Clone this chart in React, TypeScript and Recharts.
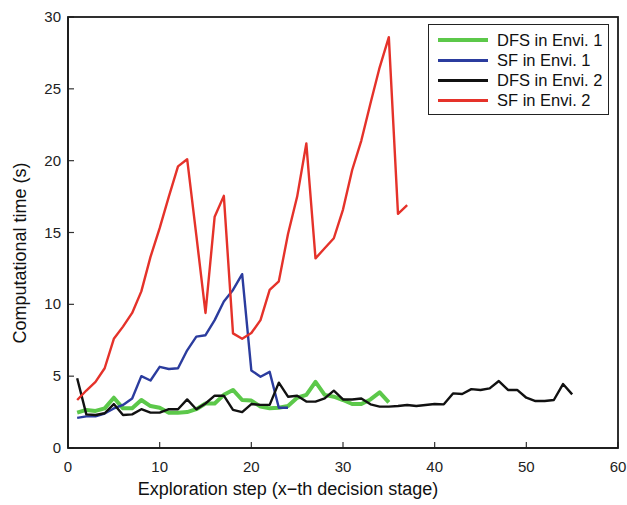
import React from 'react';
import { LineChart, Line, XAxis, YAxis } from 'recharts';

// exploration steps 1..55
const steps = Array.from({ length: 55 }, (_, i) => i + 1);

const dfsEnv1 = [2.46, 2.65, 2.58, 2.76, 3.5, 2.76, 2.76, 3.34, 2.92, 2.8, 2.46, 2.46, 2.5, 2.7, 3.1, 3.1, 3.7, 4.04, 3.34, 3.3,
  2.88, 2.76, 2.8, 2.92, 3.5, 3.7, 4.6, 3.7, 3.57, 3.34, 3.06, 3.06, 3.38, 3.87, 3.18];
const sfEnv1 = [2.1, 2.2, 2.2, 2.4, 2.75, 3.0, 3.45, 5.0, 4.7, 5.65, 5.5, 5.55, 6.8, 7.75, 7.85, 8.9, 10.2, 11.0, 12.1, 5.4,
  4.96, 5.3, 2.8, 2.8];
const dfsEnv2 = [4.85, 2.34, 2.3, 2.42, 3.06, 2.3, 2.34, 2.7, 2.46, 2.46, 2.7, 2.7, 3.38, 2.7, 3.1, 3.64, 3.64, 2.65, 2.5, 3.06,
  3.0, 3.0, 4.55, 3.57, 3.64, 3.23, 3.23, 3.45, 3.99, 3.38, 3.38, 3.45, 3.04, 2.88, 2.88, 2.92, 2.99, 2.92, 2.99, 3.06,
  3.04, 3.8, 3.76, 4.1, 4.04, 4.15, 4.66, 4.04, 4.04, 3.5, 3.27, 3.27, 3.34, 4.45, 3.73];
const sfEnv2 = [3.34, 4.0, 4.6, 5.55, 7.6, 8.45, 9.4, 10.9, 13.3, 15.3, 17.5, 19.6, 20.1, 14.8, 9.4, 16.1, 17.55, 7.98, 7.6, 8.0,
  8.9, 11.0, 11.6, 14.9, 17.5, 21.2, 13.2, 13.9, 14.6, 16.6, 19.35, 21.4, 24.0, 26.5, 28.6, 16.3, 16.9];

const xTicks = [0, 10, 20, 30, 40, 50, 60];
const yTicks = [0, 5, 10, 15, 20, 25, 30];

const series = [
  { key: 'dfs1', name: 'DFS in Envi. 1', color: '#5cc84a', width: 4 },
  { key: 'sf1', name: 'SF in Envi. 1', color: '#2b3c9e', width: 2.4 },
  { key: 'dfs2', name: 'DFS in Envi. 2', color: '#111111', width: 2.4 },
  { key: 'sf2', name: 'SF in Envi. 2', color: '#e5322a', width: 2.4 },
];

const data = steps.map((s, i) => ({
  step: s,
  dfs1: dfsEnv1[i],
  sf1: sfEnv1[i],
  dfs2: dfsEnv2[i],
  sf2: sfEnv2[i],
}));

const FONT = 'Liberation Sans, Arial, sans-serif';
const TICK = 6;

const BottomTick = ({ x, y, payload }: any) => (
  <g>
    <line x1={x} y1={y} x2={x} y2={y - TICK} stroke="#333" strokeWidth={1.2} />
    <text x={x} y={y + 24} textAnchor="middle" fontSize={15} fontFamily={FONT} fill="#222">{payload.value}</text>
  </g>
);
const TopTick = ({ x, y }: any) => (
  <line x1={x} y1={y} x2={x} y2={y + TICK} stroke="#333" strokeWidth={1.2} />
);
const LeftTick = ({ x, y, payload }: any) => (
  <g>
    <line x1={x} y1={y} x2={x + TICK} y2={y} stroke="#333" strokeWidth={1.2} />
    <text x={x - 7} y={y + 5} textAnchor="end" fontSize={15} fontFamily={FONT} fill="#222">{payload.value}</text>
  </g>
);
const RightTick = ({ x, y }: any) => (
  <line x1={x} y1={y} x2={x - TICK} y2={y} stroke="#333" strokeWidth={1.2} />
);

const LegendBox = () => (
  <div style={{ position: 'absolute', left: 428, top: 24, border: '1.3px solid #222', background: '#fff', padding: '5px 6px 4px 9px', fontFamily: FONT, fontSize: 16.5, color: '#111' }}>
    {series.map(s => (
      <div key={s.key} style={{ display: 'flex', alignItems: 'center', height: 20 }}>
        <div style={{ width: 50, height: s.width === 4 ? 4 : 3, background: s.color, marginRight: 9 }} />
        <span>{s.name}</span>
      </div>
    ))}
  </div>
);

export default function App() {
  return (
    <div style={{ position: 'absolute', left: 0, top: 0, width: 627, height: 505, background: '#fff' }}>
      <LineChart width={627} height={505} data={data} margin={{ top: 17, right: 9, left: 8, bottom: 7 }}>
        <XAxis xAxisId="b" dataKey="step" type="number" domain={[0, 60]} ticks={xTicks} orientation="bottom"
          height={50} tickSize={0} tickMargin={0} tickLine={false} tick={<BottomTick />} stroke="#222" strokeWidth={1.6} />
        <XAxis xAxisId="t" dataKey="step" type="number" domain={[0, 60]} ticks={xTicks} orientation="top"
          height={0} tickSize={0} tickMargin={0} tickLine={false} tick={<TopTick />} stroke="#222" strokeWidth={1.6} />
        <YAxis yAxisId="l" type="number" domain={[0, 30]} ticks={yTicks} orientation="left" width={60}
          tickSize={0} tickMargin={0} tickLine={false} tick={<LeftTick />} stroke="#222" strokeWidth={1.6} />
        <YAxis yAxisId="r" type="number" domain={[0, 30]} ticks={yTicks} orientation="right" width={0}
          tickSize={0} tickMargin={0} tickLine={false} tick={<RightTick />} stroke="#222" strokeWidth={1.6} />
        {series.map(s => (
          <Line key={s.key} xAxisId="b" yAxisId="l" dataKey={s.key} name={s.name} type="linear"
            stroke={s.color} strokeWidth={s.width} dot={false} isAnimationActive={false}
            strokeLinejoin="round" />
        ))}
      </LineChart>
      {/* axes box */}
      <svg width={627} height={505} style={{ position: 'absolute', left: 0, top: 0, pointerEvents: 'none' }}>
        <rect x={68} y={17} width={550} height={431} fill="none" stroke="#1a1a1a" strokeWidth={1.8} />
      </svg>
      <LegendBox />
      <div style={{ position: 'absolute', left: 135, top: 479, width: 306, textAlign: 'center', fontFamily: FONT, fontSize: 18, color: '#111', whiteSpace: 'nowrap' }}>
        Exploration step (x−th decision stage)
      </div>
      <div style={{ position: 'absolute', left: 20, top: 253, transform: 'translate(-50%, -50%) rotate(-90deg)', fontFamily: FONT, fontSize: 18, color: '#111', whiteSpace: 'nowrap' }}>
        Computational time (s)
      </div>
    </div>
  );
}
